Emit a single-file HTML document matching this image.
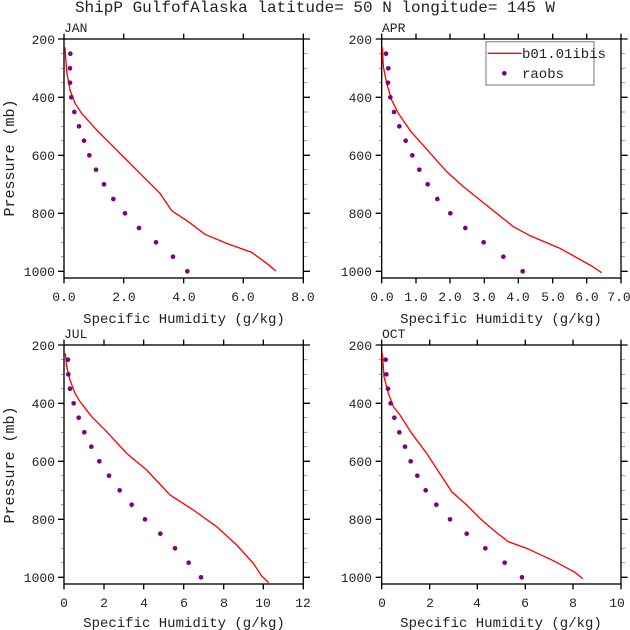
<!DOCTYPE html>
<html><head><meta charset="utf-8"><style>
html,body{margin:0;padding:0;background:#fff;}
svg{display:block;}
text{font-family:"Liberation Mono",monospace;fill:#222;}
</style></head><body>
<svg width="630" height="630" viewBox="0 0 630 630" xmlns="http://www.w3.org/2000/svg">
<text x="315" y="12" font-size="16" text-anchor="middle">ShipP GulfofAlaska  latitude= 50 N longitude= 145 W</text>

<!-- Panel 1 JAN -->
<g transform="translate(0,0) scale(0.33333)">
<g stroke="#999" stroke-width="3">
<path d="M192 161h-9M192 205h-9M192 248h-9M192 336h-9M192 379h-9M192 422h-9M192 509h-9M192 553h-9M192 597h-9M192 684h-9M192 727h-9M192 770h-9M910 161h12M910 205h12M910 248h12M910 336h12M910 379h12M910 422h12M910 509h12M910 553h12M910 597h12M910 684h12M910 727h12M910 770h12"/>
</g>
<g stroke="#000" stroke-width="4" fill="none">
<rect x="192" y="117" width="718" height="717"/>
<path d="M192 117h-18M192 292h-18M192 466h-18M192 640h-18M192 814h-18M910 117h20M910 292h20M910 466h20M910 640h20M910 814h20"/>
<path d="M192 834v16M371 834v16M551 834v16M730 834v16M910 834v16M192 117v-16M371 117v-16M551 117v-16M730 117v-16M910 117v-16"/>
</g>
<polyline fill="none" stroke="#f00" stroke-width="4" points="195,142 200,215 210,270 225,310 245,340 290,390 330,430 380,480 430,530 480,580 515,632 565,665 615,703 680,730 755,757 800,790 828,813"/>
<g fill="#800080"><circle cx="211" cy="161" r="7"/><circle cx="210" cy="205" r="7"/><circle cx="210" cy="248" r="7"/><circle cx="214" cy="292" r="7"/><circle cx="223" cy="336" r="7"/><circle cx="237" cy="379" r="7"/><circle cx="252" cy="422" r="7"/><circle cx="268" cy="466" r="7"/><circle cx="288" cy="509" r="7"/><circle cx="312" cy="553" r="7"/><circle cx="340" cy="597" r="7"/><circle cx="375" cy="640" r="7"/><circle cx="417" cy="684" r="7"/><circle cx="468" cy="727" r="7"/><circle cx="519" cy="770" r="7"/><circle cx="562" cy="814" r="7"/></g>
</g>
<text x="64" y="32" font-size="13">JAN</text>
<g font-size="13" text-anchor="end"><text x="55" y="44">200</text><text x="55" y="102">400</text><text x="55" y="160">600</text><text x="55" y="218">800</text><text x="55" y="276">1000</text></g>
<g font-size="13" text-anchor="middle"><text x="64" y="301">0.0</text><text x="124" y="301">2.0</text><text x="184" y="301">4.0</text><text x="243" y="301">6.0</text><text x="303" y="301">8.0</text></g>
<text x="184" y="323" font-size="14" text-anchor="middle">Specific Humidity (g/kg)</text>
<text transform="translate(14,158) rotate(-90)" font-size="15" text-anchor="middle">Pressure (mb)</text>

<!-- Panel 2 APR -->
<g transform="translate(320,0) scale(0.33333)">
<g stroke="#999" stroke-width="3">
<path d="M185 161h-9M185 205h-9M185 248h-9M185 336h-9M185 379h-9M185 422h-9M185 509h-9M185 553h-9M185 597h-9M185 684h-9M185 727h-9M185 770h-9M903 161h12M903 205h12M903 248h12M903 336h12M903 379h12M903 422h12M903 509h12M903 553h12M903 597h12M903 684h12M903 727h12M903 770h12"/>
</g>
<g stroke="#000" stroke-width="4" fill="none">
<rect x="185" y="117" width="718" height="717"/>
<path d="M185 117h-18M185 292h-18M185 466h-18M185 640h-18M185 814h-18M903 117h20M903 292h20M903 466h20M903 640h20M903 814h20"/>
<path d="M185 834v16M288 834v16M390 834v16M493 834v16M595 834v16M698 834v16M800 834v16M903 834v16M185 117v-16M288 117v-16M390 117v-16M493 117v-16M595 117v-16M698 117v-16M800 117v-16M903 117v-16"/>
</g>
<polyline fill="none" stroke="#f00" stroke-width="4" points="187,142 190,200 200,250 215,300 235,340 273,395 300,425 340,470 380,515 430,560 480,600 530,640 580,680 630,707 720,745 815,798 845,818"/>
<g fill="#800080"><circle cx="198" cy="161" r="7"/><circle cx="205" cy="205" r="7"/><circle cx="204" cy="248" r="7"/><circle cx="211" cy="292" r="7"/><circle cx="222" cy="336" r="7"/><circle cx="238" cy="379" r="7"/><circle cx="257" cy="422" r="7"/><circle cx="277" cy="466" r="7"/><circle cx="298" cy="509" r="7"/><circle cx="323" cy="553" r="7"/><circle cx="352" cy="597" r="7"/><circle cx="391" cy="640" r="7"/><circle cx="436" cy="684" r="7"/><circle cx="491" cy="727" r="7"/><circle cx="550" cy="770" r="7"/><circle cx="608" cy="814" r="7"/></g>
<rect x="498" y="125" width="324" height="130" fill="#fff" stroke="#999" stroke-width="4"/>
<path d="M503 160h102" stroke="#f00" stroke-width="4"/>
<circle cx="553" cy="220" r="7" fill="#800080"/>
</g>
<text x="522" y="58" font-size="14">b01.01ibis</text>
<text x="522" y="78" font-size="14">raobs</text>
<text x="382" y="32" font-size="13">APR</text>
<g font-size="13" text-anchor="end"><text x="372" y="44">200</text><text x="372" y="102">400</text><text x="372" y="160">600</text><text x="372" y="218">800</text><text x="372" y="276">1000</text></g>
<g font-size="13" text-anchor="middle"><text x="382" y="301">0.0</text><text x="416" y="301">1.0</text><text x="450" y="301">2.0</text><text x="484" y="301">3.0</text><text x="518" y="301">4.0</text><text x="553" y="301">5.0</text><text x="587" y="301">6.0</text><text x="619" y="301">7.0</text></g>
<text x="501" y="323" font-size="14" text-anchor="middle">Specific Humidity (g/kg)</text>

<!-- Panel 3 JUL -->
<g transform="translate(0,310) scale(0.33333)">
<g stroke="#999" stroke-width="3">
<path d="M192 149h-9M192 193h-9M192 236h-9M192 323h-9M192 367h-9M192 410h-9M192 497h-9M192 541h-9M192 584h-9M192 671h-9M192 715h-9M192 758h-9M910 149h12M910 193h12M910 236h12M910 323h12M910 367h12M910 410h12M910 497h12M910 541h12M910 584h12M910 671h12M910 715h12M910 758h12"/>
</g>
<g stroke="#000" stroke-width="4" fill="none">
<rect x="192" y="105" width="718" height="717"/>
<path d="M192 105h-18M192 280h-18M192 454h-18M192 628h-18M192 802h-18M910 105h20M910 280h20M910 454h20M910 628h20M910 802h20"/>
<path d="M192 822v16M312 822v16M431 822v16M551 822v16M671 822v16M790 822v16M910 822v16M192 105v-16M312 105v-16M431 105v-16M551 105v-16M671 105v-16M790 105v-16M910 105v-16"/>
</g>
<polyline fill="none" stroke="#f00" stroke-width="4" points="196,130 200,170 210,210 225,250 240,275 275,320 320,365 380,430 440,480 510,555 580,600 650,650 710,705 760,760 785,798 806,818"/>
<g fill="#800080"><circle cx="204" cy="149" r="7"/><circle cx="205" cy="193" r="7"/><circle cx="210" cy="236" r="7"/><circle cx="221" cy="280" r="7"/><circle cx="236" cy="323" r="7"/><circle cx="253" cy="367" r="7"/><circle cx="274" cy="410" r="7"/><circle cx="298" cy="454" r="7"/><circle cx="327" cy="497" r="7"/><circle cx="359" cy="541" r="7"/><circle cx="395" cy="584" r="7"/><circle cx="435" cy="628" r="7"/><circle cx="481" cy="671" r="7"/><circle cx="525" cy="715" r="7"/><circle cx="566" cy="758" r="7"/><circle cx="603" cy="802" r="7"/></g>
</g>
<text x="64" y="338" font-size="13">JUL</text>
<g font-size="13" text-anchor="end"><text x="55" y="350">200</text><text x="55" y="408">400</text><text x="55" y="466">600</text><text x="55" y="524">800</text><text x="55" y="582">1000</text></g>
<g font-size="13" text-anchor="middle"><text x="64" y="607">0</text><text x="104" y="607">2</text><text x="144" y="607">4</text><text x="184" y="607">6</text><text x="224" y="607">8</text><text x="263" y="607">10</text><text x="303" y="607">12</text></g>
<text x="184" y="627" font-size="14" text-anchor="middle">Specific Humidity (g/kg)</text>
<text transform="translate(14,465) rotate(-90)" font-size="15" text-anchor="middle">Pressure (mb)</text>

<!-- Panel 4 OCT -->
<g transform="translate(320,310) scale(0.33333)">
<g stroke="#999" stroke-width="3">
<path d="M185 149h-9M185 193h-9M185 236h-9M185 323h-9M185 367h-9M185 410h-9M185 497h-9M185 541h-9M185 584h-9M185 671h-9M185 715h-9M185 758h-9M903 149h12M903 193h12M903 236h12M903 323h12M903 367h12M903 410h12M903 497h12M903 541h12M903 584h12M903 671h12M903 715h12M903 758h12"/>
</g>
<g stroke="#000" stroke-width="4" fill="none">
<rect x="185" y="105" width="718" height="717"/>
<path d="M185 105h-18M185 280h-18M185 454h-18M185 628h-18M185 802h-18M903 105h20M903 280h20M903 454h20M903 628h20M903 802h20"/>
<path d="M185 822v16M329 822v16M472 822v16M616 822v16M759 822v16M903 822v16M185 105v-16M329 105v-16M472 105v-16M616 105v-16M759 105v-16M903 105v-16"/>
</g>
<polyline fill="none" stroke="#f00" stroke-width="4" points="187,130 192,200 205,250 220,290 240,315 275,370 320,430 395,545 440,585 480,625 520,660 565,695 620,715 700,752 765,787 788,806"/>
<g fill="#800080"><circle cx="197" cy="149" r="7"/><circle cx="199" cy="193" r="7"/><circle cx="204" cy="236" r="7"/><circle cx="212" cy="280" r="7"/><circle cx="223" cy="323" r="7"/><circle cx="238" cy="367" r="7"/><circle cx="255" cy="410" r="7"/><circle cx="272" cy="454" r="7"/><circle cx="292" cy="497" r="7"/><circle cx="317" cy="541" r="7"/><circle cx="349" cy="584" r="7"/><circle cx="390" cy="628" r="7"/><circle cx="440" cy="671" r="7"/><circle cx="496" cy="715" r="7"/><circle cx="554" cy="758" r="7"/><circle cx="606" cy="802" r="7"/></g>
</g>
<text x="382" y="338" font-size="13">OCT</text>
<g font-size="13" text-anchor="end"><text x="372" y="350">200</text><text x="372" y="408">400</text><text x="372" y="466">600</text><text x="372" y="524">800</text><text x="372" y="582">1000</text></g>
<g font-size="13" text-anchor="middle"><text x="382" y="607">0</text><text x="430" y="607">2</text><text x="477" y="607">4</text><text x="525" y="607">6</text><text x="573" y="607">8</text><text x="617" y="607">10</text></g>
<text x="501" y="627" font-size="14" text-anchor="middle">Specific Humidity (g/kg)</text>
</svg>
</body></html>
